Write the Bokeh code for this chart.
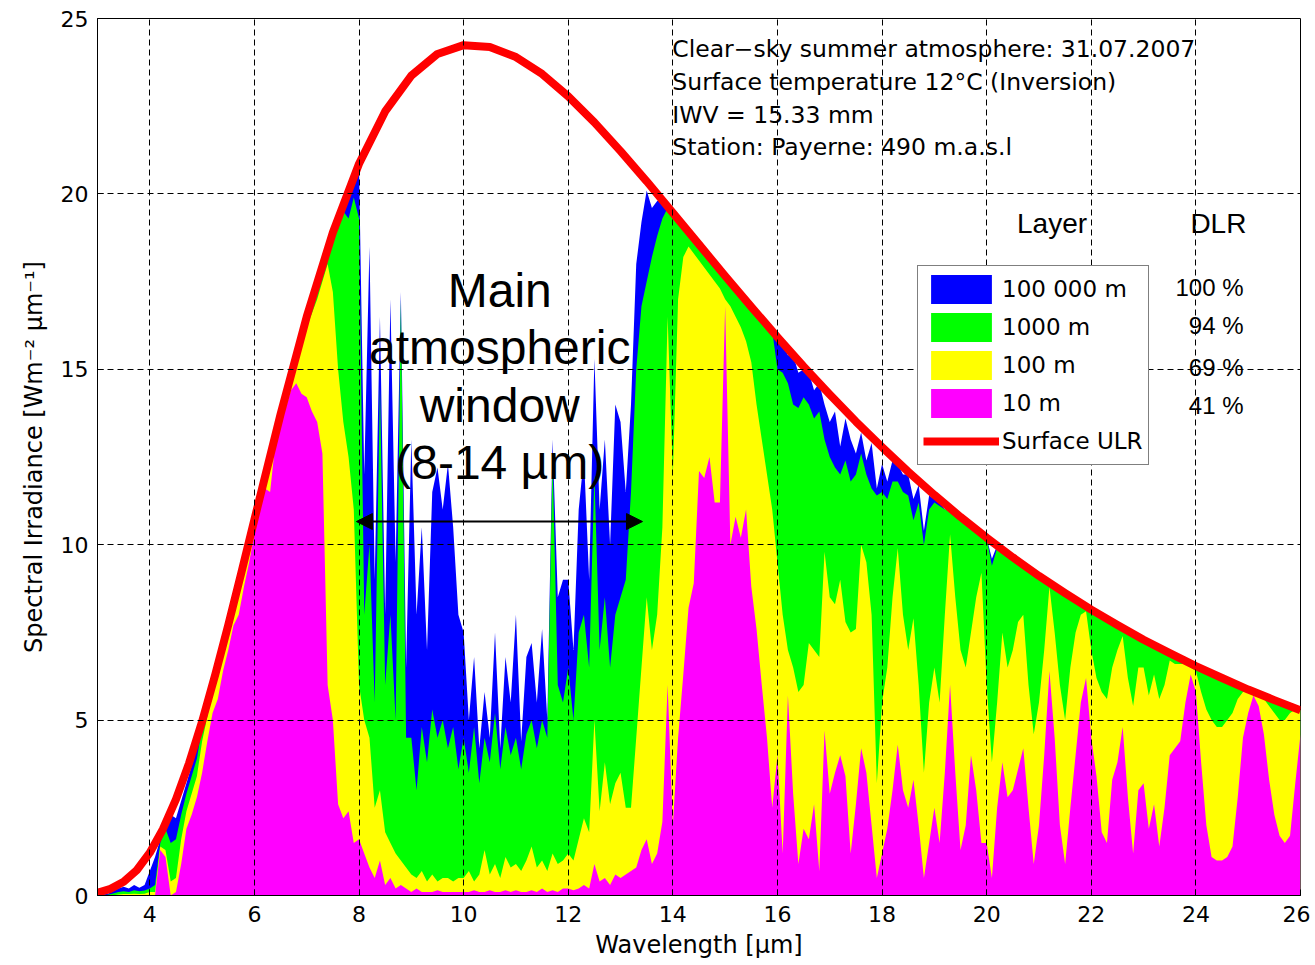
import numpy as np
from bokeh.plotting import figure
from bokeh.models import (Range1d, Legend, LegendItem, Label, Arrow, NormalHead,
                          FixedTicker, ColumnDataSource)
from bokeh.embed import file_html
from bokeh.resources import INLINE

# ---------------- data ----------------
wavelength = np.round(np.arange(30, 261) / 10.0, 1)   # 3.0 ... 26.0 um, step 0.1

layer_100000m = [
    0.02, 0.03, 0.05, 0.12, 0.20, 0.25, 0.20, 0.30, 0.22, 0.30,
    0.70, 1.10, 1.60, 2.00, 2.30, 2.20, 2.70, 3.20, 3.70, 4.30,
    4.95, 5.50, 6.04, 6.58, 7.14, 7.71, 8.30, 8.89, 9.50, 10.10,
    10.72, 11.33, 11.94, 12.54, 13.13, 13.72, 14.30, 14.86, 15.42, 15.97,
    16.50, 17.00, 17.50, 17.98, 18.45, 18.90, 19.33, 19.74, 20.13, 20.50,
    20.80, 12.00, 18.50, 9.00, 16.50, 8.00, 17.00, 9.50, 17.20, 6.50,
    13.00, 8.00, 10.50, 7.00, 11.50, 12.20, 11.00, 12.30, 10.50, 8.00,
    7.50, 5.00, 6.80, 4.20, 5.80, 4.50, 7.50, 4.20, 6.80, 5.50,
    8.00, 4.40, 6.80, 7.20, 5.50, 7.60, 5.00, 13.00, 8.50, 9.00,
    9.00, 7.00, 11.00, 12.50, 9.00, 15.30, 11.00, 13.00, 10.00, 14.00,
    13.50, 11.50, 14.00, 18.00, 19.20, 20.10, 19.60, 19.80, 19.82, 19.64,
    19.46, 19.28, 19.10, 18.92, 18.74, 18.56, 18.38, 18.20, 18.02, 17.84,
    17.66, 17.48, 17.31, 17.13, 16.95, 16.78, 16.61, 16.44, 16.26, 16.09,
    15.92, 15.75, 15.40, 15.41, 14.90, 15.00, 14.92, 14.40, 14.60, 14.00,
    13.50, 13.80, 12.80, 13.60, 13.00, 12.60, 13.20, 12.40, 12.90, 11.60,
    12.30, 11.80, 12.40, 12.30, 12.00, 12.00, 11.30, 11.70, 10.40, 11.40,
    11.30, 11.20, 11.00, 11.00, 10.80, 10.70, 10.60, 10.50, 10.40, 10.30,
    10.20, 9.60, 9.98, 9.86, 9.75, 9.64, 9.54, 9.43, 9.32, 9.22,
    9.11, 9.01, 8.91, 8.81, 8.72, 8.62, 8.52, 8.43, 8.34, 8.24,
    8.15, 8.06, 7.97, 7.89, 7.80, 7.71, 7.63, 7.55, 7.46, 7.38,
    7.29, 7.21, 7.14, 7.06, 6.98, 6.91, 6.83, 6.76, 6.68, 6.61,
    6.54, 6.47, 6.40, 6.33, 6.27, 6.20, 6.13, 6.07, 6.00, 5.94,
    5.87, 5.81, 5.75, 5.69, 5.63, 5.57, 5.51, 5.45, 5.39, 5.34,
    5.28]

layer_1000m = [
    0.00, 0.00, 0.02, 0.06, 0.10, 0.12, 0.10, 0.15, 0.12, 0.14,
    0.20, 0.30, 1.50, 1.90, 1.50, 1.60, 2.30, 2.90, 3.40, 3.90,
    4.80, 5.40, 5.90, 6.50, 7.10, 7.70, 8.30, 8.85, 9.45, 10.05,
    10.72, 11.33, 11.94, 12.54, 13.13, 13.72, 14.30, 14.86, 15.42, 15.97,
    16.40, 16.90, 17.40, 17.90, 18.30, 18.70, 19.00, 19.50, 19.30, 19.90,
    19.30, 8.00, 10.00, 5.50, 14.50, 6.00, 8.00, 5.00, 17.00, 4.50,
    4.50, 3.00, 4.80, 3.80, 5.30, 4.50, 5.00, 4.20, 4.80, 3.60,
    4.50, 3.50, 4.80, 3.20, 4.50, 3.80, 5.20, 3.60, 4.80, 4.00,
    4.50, 3.60, 4.60, 5.00, 4.20, 5.00, 4.50, 12.50, 6.00, 5.50,
    6.50, 5.00, 7.50, 8.00, 6.50, 12.00, 7.00, 8.50, 6.50, 8.00,
    8.50, 9.00, 11.50, 15.00, 16.80, 17.50, 18.20, 18.80, 19.30, 19.60,
    19.30, 19.28, 19.10, 18.92, 18.74, 18.56, 18.38, 18.20, 18.02, 17.84,
    17.66, 17.48, 17.31, 17.13, 16.95, 16.78, 16.61, 16.44, 16.26, 16.09,
    15.00, 14.90, 14.60, 14.00, 13.90, 14.20, 14.00, 13.60, 13.80, 13.00,
    12.50, 12.20, 12.00, 12.40, 11.80, 12.00, 12.60, 12.00, 11.60, 11.40,
    11.50, 11.30, 11.80, 11.80, 11.50, 11.40, 10.70, 11.20, 10.00, 11.00,
    11.20, 11.10, 11.00, 10.95, 10.80, 10.70, 10.60, 10.50, 10.40, 10.30,
    10.20, 9.40, 9.90, 9.86, 9.75, 9.64, 9.54, 9.43, 9.32, 9.22,
    9.11, 9.01, 8.91, 8.81, 8.72, 8.62, 8.52, 8.43, 8.34, 8.24,
    8.15, 8.06, 7.97, 7.89, 7.80, 7.71, 7.63, 7.55, 7.46, 7.38,
    7.29, 7.21, 7.14, 7.06, 6.98, 6.91, 6.83, 6.76, 6.68, 6.61,
    6.54, 6.47, 6.40, 6.33, 6.27, 6.20, 6.13, 6.07, 6.00, 5.94,
    5.87, 5.81, 5.75, 5.69, 5.63, 5.57, 5.51, 5.45, 5.39, 5.34,
    5.28]

layer_100m = [
    0.00, 0.00, 0.00, 0.01, 0.03, 0.04, 0.04, 0.05, 0.04, 0.05,
    0.10, 0.10, 1.40, 1.30, 0.40, 0.50, 1.60, 2.40, 2.90, 3.40,
    4.40, 5.10, 5.80, 6.30, 6.90, 7.50, 8.10, 8.70, 9.30, 9.90,
    10.70, 11.30, 11.90, 12.50, 13.10, 13.70, 14.30, 14.80, 15.30, 15.80,
    16.20, 16.60, 17.00, 17.50, 18.00, 17.20, 15.00, 13.50, 12.50, 11.00,
    6.00, 5.00, 4.50, 2.50, 3.00, 1.80, 1.50, 1.20, 1.00, 0.80,
    0.60, 0.50, 0.70, 0.40, 0.60, 0.40, 0.50, 0.50, 0.40, 0.50,
    0.50, 0.70, 0.40, 0.60, 1.30, 0.60, 0.90, 0.50, 1.10, 0.80,
    0.90, 0.70, 1.00, 1.40, 0.80, 1.00, 0.70, 1.20, 0.90, 1.00,
    1.20, 1.00, 1.60, 2.20, 1.80, 5.00, 2.40, 3.80, 2.60, 3.20,
    3.50, 2.50, 2.50, 4.50, 6.50, 8.50, 7.00, 8.00, 10.50, 16.50,
    12.00, 17.00, 18.20, 18.50, 18.30, 18.10, 17.90, 17.70, 17.50, 17.30,
    17.00, 16.80, 16.50, 16.20, 15.80, 15.20, 14.00, 13.00, 12.00, 11.00,
    9.50, 8.00, 7.00, 6.50, 5.80, 6.00, 7.20, 7.00, 6.80, 9.80,
    8.50, 8.30, 9.00, 7.80, 7.50, 7.60, 10.00, 9.50, 8.00, 3.20,
    5.50, 6.50, 8.50, 9.90, 8.00, 7.00, 7.90, 6.00, 3.50, 5.50,
    6.50, 5.50, 8.00, 10.30, 8.50, 7.00, 6.50, 7.50, 8.50, 9.20,
    6.00, 3.80, 5.50, 7.50, 6.50, 7.00, 7.80, 8.00, 6.00, 4.60,
    5.50, 7.00, 8.80, 7.50, 6.00, 5.00, 6.50, 7.50, 8.00, 8.10,
    7.00, 6.20, 5.80, 5.60, 6.50, 7.00, 7.40, 6.20, 5.40, 6.50,
    6.50, 5.70, 6.30, 5.60, 6.00, 6.70, 6.60, 6.60, 6.60, 6.50,
    6.40, 5.80, 5.30, 5.00, 4.80, 4.80, 5.00, 5.20, 5.60, 5.80,
    5.80, 5.80, 5.70, 5.60, 5.40, 5.20, 5.00, 5.00, 5.20, 5.30,
    5.28]

layer_10m = [
    0.00, 0.00, 0.00, 0.00, 0.00, 0.00, 0.00, 0.00, 0.00, 0.00,
    0.00, 0.00, 1.30, 1.10, 0.00, 0.10, 0.90, 1.90, 2.30, 2.80,
    3.50, 4.40, 5.20, 5.60, 6.40, 7.00, 7.70, 8.00, 8.80, 9.50,
    10.30, 11.00, 11.60, 11.50, 12.90, 13.40, 13.90, 14.40, 14.60, 14.30,
    14.20, 13.80, 13.50, 12.60, 6.00, 5.00, 2.60, 2.20, 2.40, 1.50,
    1.60, 1.20, 0.80, 0.50, 1.00, 0.30, 0.50, 0.20, 0.30, 0.20,
    0.10, 0.20, 0.10, 0.10, 0.10, 0.15, 0.10, 0.10, 0.10, 0.10,
    0.10, 0.10, 0.15, 0.10, 0.10, 0.15, 0.10, 0.10, 0.15, 0.10,
    0.15, 0.10, 0.10, 0.15, 0.10, 0.20, 0.10, 0.15, 0.10, 0.20,
    0.20, 0.15, 0.20, 0.30, 0.20, 0.90, 0.40, 0.50, 0.30, 0.60,
    0.50, 0.60, 0.70, 0.80, 1.30, 1.60, 0.90, 1.20, 2.10, 6.00,
    2.00, 4.50, 6.30, 8.20, 8.90, 12.10, 11.90, 12.50, 11.20, 11.20,
    16.80, 10.00, 10.80, 10.20, 11.00, 8.80, 7.60, 6.00, 4.50, 2.50,
    4.00, 1.20, 5.70, 2.90, 0.90, 1.90, 1.60, 2.60, 0.70, 4.70,
    2.90, 3.50, 4.00, 3.40, 1.20, 2.60, 4.20, 3.50, 2.00, 0.50,
    1.20, 1.90, 3.00, 4.30, 3.00, 2.50, 3.30, 2.00, 0.50, 1.50,
    2.50, 1.50, 3.50, 6.00, 3.50, 1.30, 2.00, 4.00, 3.00, 1.50,
    1.50, 0.50, 2.50, 3.80, 2.80, 3.00, 3.60, 4.20, 2.50, 0.90,
    2.00, 4.00, 6.40, 4.50, 2.00, 0.90, 2.50, 4.00, 5.50, 6.20,
    4.50, 3.40, 1.80, 1.50, 3.30, 3.80, 4.80, 2.80, 1.20, 3.00,
    3.20, 1.90, 2.60, 1.40, 2.50, 4.00, 4.20, 4.40, 5.50, 6.30,
    5.80, 3.80, 2.00, 1.10, 1.00, 1.00, 1.10, 1.40, 2.80, 4.50,
    5.20, 5.70, 5.40, 4.60, 3.30, 2.30, 1.70, 1.50, 1.70, 3.20,
    4.60]

ulr_wavelength = [3.0, 3.25, 3.5, 3.75, 4.0, 4.25, 4.5, 4.75, 5.0, 5.25, 5.5, 5.75,
                  6.0, 6.5, 7.0, 7.5, 8.0, 8.5, 9.0, 9.5, 10.0, 10.5, 11.0, 11.5,
                  12.0, 12.5, 13.0, 13.5, 14.0, 14.5, 15.0, 15.5, 16.0, 16.5, 17.0,
                  17.5, 18.0, 18.5, 19.0, 19.5, 20.0, 20.5, 21.0, 21.5, 22.0, 22.5,
                  23.0, 23.5, 24.0, 24.5, 25.0, 25.5, 26.0]
surface_ulr = [0.08, 0.19, 0.39, 0.72, 1.22, 1.89, 2.74, 3.77, 4.96, 6.29, 7.71, 9.20,
               10.72, 13.72, 16.50, 18.90, 20.86, 22.35, 23.37, 23.99, 24.24, 24.19,
               23.90, 23.42, 22.78, 22.04, 21.22, 20.36, 19.46, 18.56, 17.66, 16.78,
               15.92, 15.08, 14.28, 13.51, 12.78, 12.08, 11.42, 10.79, 10.20, 9.64,
               9.11, 8.62, 8.15, 7.71, 7.29, 6.91, 6.54, 6.20, 5.87, 5.57, 5.28]

x_ticks = [4, 6, 8, 10, 12, 14, 16, 18, 20, 22, 24, 26]
y_ticks = [0, 5, 10, 15, 20, 25]

layer_names = ["100 000 m", "1000 m", "100 m", "10 m"]
layer_colors = ["#0000FF", "#00FF00", "#FFFF00", "#FF00FF"]
dlr_percent = ["100 %", "94 %", "69 %", "41 %"]
info_lines = ["Clear\u2212sky summer atmosphere: 31.07.2007",
              "Surface temperature 12\u00b0C (Inversion)",
              "IWV = 15.33 mm",
              "Station: Payerne: 490 m.a.s.l"]
window_lines = ["Main", "atmospheric", "window", "(8-14 \u00b5m)"]

# ---------------- figure ----------------
MATLAB_FONT = "DejaVu Sans"
PPT_FONT = "Liberation Sans"

p = figure(frame_width=1203, frame_height=877,
           x_range=Range1d(3, 26), y_range=Range1d(0, 25),
           output_backend="svg", toolbar_location=None,
           min_border_left=97, min_border_top=18, min_border_right=10,
           min_border_bottom=62, background_fill_color="white")

p.outline_line_color = "black"
p.outline_line_width = 1

src = ColumnDataSource(dict(x=wavelength, b=layer_100000m, g=layer_1000m,
                            y=layer_100m, m=layer_10m))

renderers = []
for col, color in zip(["b", "g", "y", "m"], layer_colors):
    r = p.varea(x="x", y1=0, y2=col, source=src, fill_color=color, fill_alpha=1.0)
    renderers.append(r)

red = p.line(ulr_wavelength, surface_ulr, line_color="#FF0000", line_width=8,
             line_join="round")

# axes
for ax in (p.xaxis[0], p.yaxis[0]):
    ax.major_label_text_font = MATLAB_FONT
    ax.major_label_text_font_size = "22px"
    ax.major_label_text_color = "black"
    ax.axis_label_text_font = MATLAB_FONT
    ax.axis_label_text_font_size = "24px"
    ax.axis_label_text_font_style = "normal"
    ax.axis_label_text_color = "black"
    ax.axis_line_color = "black"
    ax.major_tick_line_color = "black"
    ax.major_tick_in = 6
    ax.major_tick_out = 0
    ax.minor_tick_line_color = None

p.xaxis.ticker = FixedTicker(ticks=x_ticks)
p.yaxis.ticker = FixedTicker(ticks=y_ticks)
p.xaxis.axis_label = "Wavelength [\u00b5m]"
p.yaxis.axis_label = "Spectral Irradiance [Wm\u207b\u00b2 \u00b5m\u207b\u00b9]"
p.xaxis.major_label_standoff = 10
p.xaxis.axis_label_standoff = 6
p.yaxis.major_label_standoff = 9
p.yaxis.axis_label_standoff = 10

for g, t in ((p.xgrid[0], x_ticks), (p.ygrid[0], y_ticks)):
    g.ticker = FixedTicker(ticks=t)
    g.grid_line_color = "black"
    g.grid_line_dash = "6 4"
    g.grid_line_width = 1
    g.grid_line_alpha = 1.0
    g.level = "annotation"

# legend
items = [LegendItem(label=n, renderers=[r]) for n, r in zip(layer_names, renderers)]
items.append(LegendItem(label="Surface ULR", renderers=[red]))
legend = Legend(items=items, location=(820, 430), orientation="vertical",
                label_text_font=MATLAB_FONT, label_text_font_size="23px",
                label_text_color="black",
                glyph_width=76, glyph_height=36, label_height=36, spacing=2,
                padding=5, margin=0, label_standoff=3,
                border_line_color="black", border_line_width=1,
                background_fill_color="white", background_fill_alpha=1.0)
p.add_layout(legend)

# info text block
info_y = [24.12, 23.18, 22.24, 21.33]
for txt, yy in zip(info_lines, info_y):
    p.add_layout(Label(x=13.99, y=yy, text=txt, text_font=MATLAB_FONT,
                       text_font_size="23.5px", text_baseline="middle",
                       text_align="left", text_color="black"))

# Layer / DLR headings and percentages
p.add_layout(Label(x=21.25, y=19.17, text="Layer", text_font=PPT_FONT,
                   text_font_size="28px", text_baseline="middle", text_align="center",
                   text_color="black"))
p.add_layout(Label(x=24.43, y=19.17, text="DLR", text_font=PPT_FONT,
                   text_font_size="28px", text_baseline="middle", text_align="center",
                   text_color="black"))
pct_y = [17.32, 16.24, 15.04, 13.96]
for txt, yy in zip(dlr_percent, pct_y):
    p.add_layout(Label(x=24.91, y=yy, text=txt, text_font=PPT_FONT,
                       text_font_size="24px", text_baseline="middle", text_align="right",
                       text_color="black"))

# main window annotation
win_y = [17.24, 15.61, 13.96, 12.34]
for txt, yy in zip(window_lines, win_y):
    p.add_layout(Label(x=10.69, y=yy, text=txt, text_font=PPT_FONT,
                       text_font_size="48px", text_baseline="middle", text_align="center",
                       text_color="black"))

p.add_layout(Arrow(start=NormalHead(size=16, fill_color="black", line_color="black"),
                   end=NormalHead(size=16, fill_color="black", line_color="black"),
                   x_start=7.95, y_start=10.66, x_end=13.42, y_end=10.66,
                   line_color="black", line_width=2))

open("out.html", "w").write(file_html(p, INLINE))
